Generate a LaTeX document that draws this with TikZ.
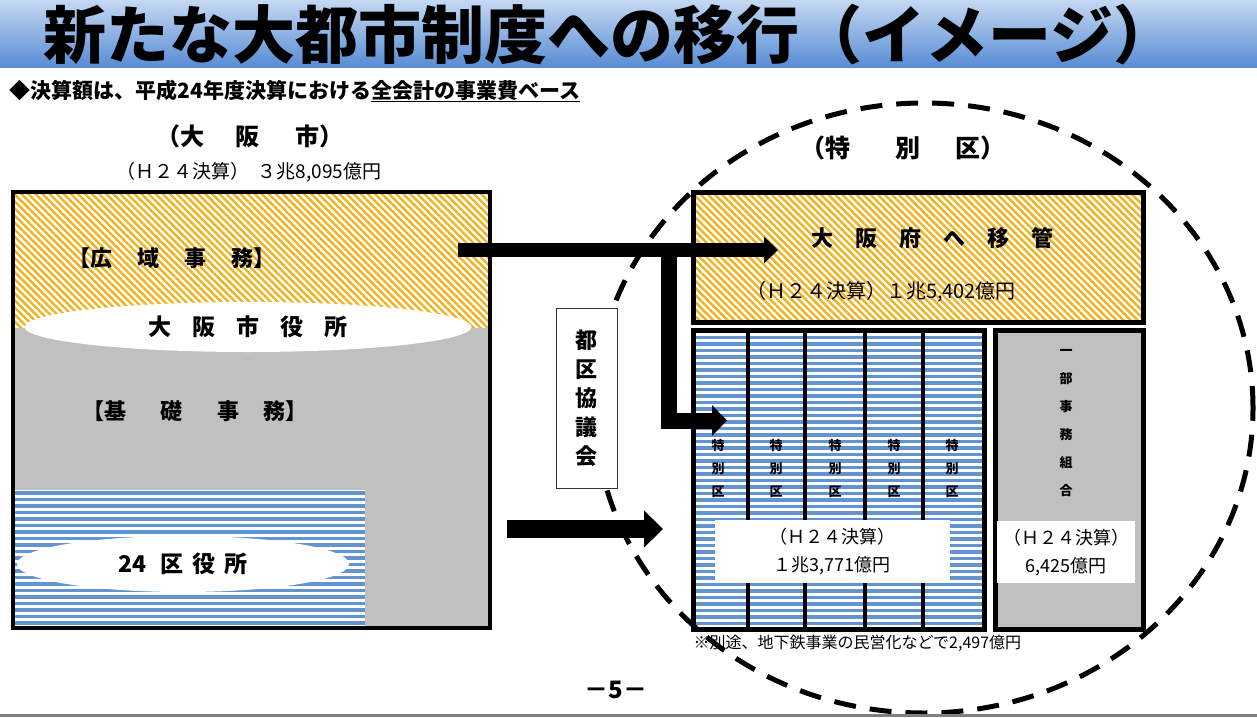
\documentclass[tikz,border=0pt]{standalone}
\usepackage{fontspec}
\setmainfont{Noto Sans CJK JP}
\usetikzlibrary{arrows.meta,patterns.meta,shapes.geometric,positioning,calc}

\definecolor{hatchorange}{RGB}{240,178,30}
\definecolor{stripeblue}{RGB}{98,148,208}
\definecolor{boxgrey}{RGB}{192,192,192}
\definecolor{bartop}{RGB}{196,216,242}
\definecolor{barmid}{RGB}{238,244,251}
\definecolor{barbottom}{RGB}{88,140,212}

\newcommand{\jpsize}[1]{\fontsize{#1}{#1}\selectfont}

\tikzset{
  hatch/.style={pattern={Lines[angle=-45,distance=5pt,line width=2.4pt]},pattern color=hatchorange},
  stripe/.style={stripeblue,line width=3.4pt},
  frame/.style={draw,line width=5pt,anchor=north west,inner sep=0pt},
  lbl/.style={font=\bfseries\jpsize{#1}},
  txt/.style={font=\jpsize{#1}},
  sumbox/.style={fill=white,align=center,inner sep=0pt,font=\fontsize{18}{28}\selectfont},
  colname/.style={font=\bfseries\fontsize{13}{23}\selectfont,align=center},
}

\begin{document}
\begin{tikzpicture}[x=1pt,y=-1pt]
    \useasboundingbox (0,0) rectangle (1257,717);

    % Title bar
    \shade[top color=bartop,middle color=barmid,bottom color=barbottom] (0,0) rectangle (1257,67);
    \node[lbl=63] (title) at (610,35) {新たな大都市制度への移行（イメージ）};
    \node[lbl=21,anchor=west] (note) at (6,91) {◆決算額は、平成24年度決算における\underline{全会計の事業費ベース}};

    % Osaka city (left)
    \node[lbl=24] (city-head) at (250,136) {（大\hspace{32pt}阪\hspace{36pt}市）};
    \node[txt=19] (city-sum) at (249,172) {（Ｈ２４決算）\hspace{8pt}３兆8,095億円};

    \fill[hatch] (11,190) rectangle (488,328);
    \fill[boxgrey] (11,328) rectangle (488,626);
    \fill[white] (11,490) rectangle (365,626);
    \begin{scope}
        \clip (11,490) rectangle (365,626);
        \foreach \y in {493,499.5,...,626}
            \draw[stripe] (11,\y) -- (365,\y);
    \end{scope}
    \node[frame,line width=4pt,minimum width=477pt,minimum height=436pt] (city) at (11,190) {};

    \node[lbl=22] (kouiki) at (172,258) {【広\hspace{25pt}域\hspace{25pt}事\hspace{25pt}務】};
    \node[ellipse,fill=white,minimum width=447pt,minimum height=50pt,lbl=23] (shiyakusho) at (248,327)
        {大\hspace{21pt}阪\hspace{21pt}市\hspace{21pt}役\hspace{21pt}所};
    \node[lbl=22] (kiso) at (195,411) {【基\hspace{35pt}礎\hspace{35pt}事\hspace{24pt}務】};
    \node[ellipse,fill=white,minimum width=332pt,minimum height=56pt,lbl=23] (kuyakusho) at (183,564)
        {24\hspace{14pt}区\hspace{9pt}役\hspace{9pt}所};

    % Special wards (right)
    \node[lbl=25] (ku-head) at (903,148) {（特\hspace{45pt}別\hspace{35pt}区）};

    \fill[white] (691,190) rectangle (1141,320);
    \node[frame,hatch,minimum width=450pt,minimum height=130pt] (fu) at (691,190) {};
    \node[lbl=22] (fu-name) at (932,238) {大\hspace{22pt}阪\hspace{22pt}府\hspace{22pt}へ\hspace{22pt}移\hspace{22pt}管};
    \node[txt=20] (fu-sum) at (881,292) {（Ｈ２４決算）１兆5,402億円};

    \fill[white] (691,328) rectangle (982,627);
    \begin{scope}
        \clip (691,328) rectangle (982,627);
        \foreach \y in {331,337.5,...,627}
            \draw[stripe] (691,\y) -- (982,\y);
    \end{scope}
    \node[frame,minimum width=291pt,minimum height=299pt] (ku) at (691,328) {};
    \foreach \x in {748,805,865,923}
        \draw[line width=4pt] (\x,328) -- (\x,627);
    \foreach \x/\n in {718/1,776/2,835/3,894/4,952/5}
        \node[colname] (ku\n) at (\x,469) {特\\別\\区};
    \node[sumbox,minimum width=235pt,minimum height=63pt] (ku-sum) at (832,551) {（Ｈ２４決算）\\１兆3,771億円};

    \node[frame,fill=boxgrey,minimum width=148pt,minimum height=299pt] (kumiai) at (993,328) {};
    \node[font=\bfseries\fontsize{13}{28}\selectfont,align=center] (kumiai-name) at (1066,423) {一\\部\\事\\務\\組\\合};
    \node[sumbox,minimum width=138pt,minimum height=62pt] (kumiai-sum) at (1066,552) {（Ｈ２４決算）\\6,425億円};

    \node[txt=16,anchor=west] (subway) at (690,643) {※別途、地下鉄事業の民営化などで2,497億円};

    % Arrows
    \coordinate (kouiki-out) at (458,250);
    \coordinate (fu-in) at (778,250);
    \coordinate (branch) at (669,243);
    \coordinate (ku-in) at (727,420.5);
    \coordinate (kiso-out) at (507,529);
    \coordinate (ku-side) at (663,529);
    \draw[line width=14pt,-{Triangle[length=14pt,width=26pt]}] (kouiki-out) -- (fu-in);
    \draw[line width=16pt,line join=miter,-{Triangle[length=15pt,width=30pt]}] (branch) |- (ku-in);
    \draw[line width=18pt,-{Triangle[length=19pt,width=36pt]}] (kiso-out) -- (ku-side);

    % Boundary of the new wards
    \node[ellipse,draw,line width=5pt,dash pattern=on 22pt off 14pt,minimum width=658pt,minimum height=610pt] (tokubetsu) at (924,408) {};

    % Council
    \node[draw=black!80,fill=white,line width=1pt,minimum width=61pt,minimum height=180pt,align=center,
          font=\bfseries\fontsize{22}{29}\selectfont] (kyougikai) at (586.5,398) {都\\区\\協\\議\\会};

    % Page number
    \node[lbl=24] (page) at (616,690) {－5－};
    \draw[line width=3pt,gray] (0,715.5) -- (1257,715.5);
\end{tikzpicture}
\end{document}
